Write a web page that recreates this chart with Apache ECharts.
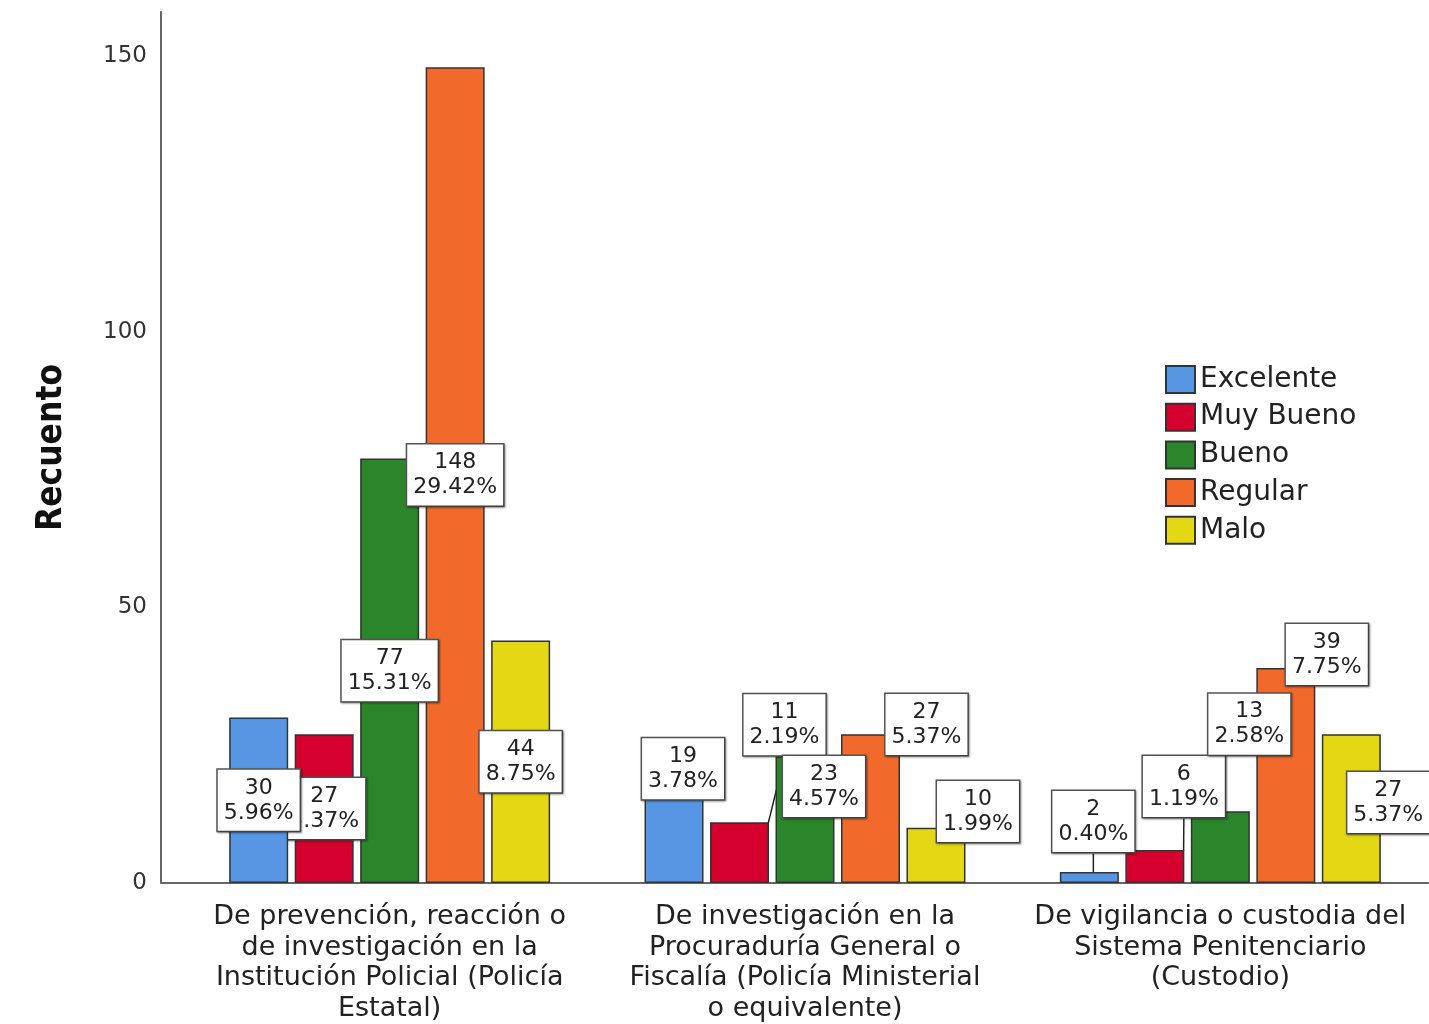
<!DOCTYPE html>
<html>
<head>
<meta charset="utf-8">
<title>Recuento</title>
<script src="https://cdn.jsdelivr.net/npm/echarts@6/dist/echarts.min.js"></script>
<style>
    html, body { margin: 0; padding: 0; background: #fff; }
    #chartDiv { width: 1429px; height: 1024px; }
</style>
</head>
<body>
<div id="chartDiv"></div>
<script>
// datos
var categorias = [
    'De prevención, reacción o\nde investigación en la\nInstitución Policial (Policía\nEstatal)',
    'De investigación en la\nProcuraduría General o\nFiscalía (Policía Ministerial\no equivalente)',
    'De vigilancia o custodia del\nSistema Penitenciario\n(Custodio)'
];
var nombres = ['Excelente', 'Muy Bueno', 'Bueno', 'Regular', 'Malo'];
var excelente = [30, 19, 2];
var muyBueno = [27, 11, 6];
var bueno = [77, 23, 13];
var regular = [148, 27, 39];
var malo = [44, 10, 27];
var excelentePct = ['5.96', '3.78', '0.40'];
var muyBuenoPct = ['5.37', '2.19', '1.19'];
var buenoPct = ['15.31', '4.57', '2.58'];
var regularPct = ['29.42', '5.37', '7.75'];
var maloPct = ['8.75', '1.99', '5.37'];
var yMin = 0, yMax = 158, yInterval = 50;

var valores = [excelente, muyBueno, bueno, regular, malo];
var porcentajes = [excelentePct, muyBuenoPct, buenoPct, regularPct, maloPct];
var colores = ['#5796e3', '#d6002e', '#2b862b', '#f26a2b', '#e4d714'];

// desplazamiento de las etiquetas (como en SPSS), [dx, dy] por serie y categoria
var desplaza = [
    [[0, 0], [9, -62], [4, -56]],
    [[0, 0], [45, -128], [29, -80]],
    [[0, 0], [19, -33], [29, -123]],
    [[0, 0], [56, -84], [41, -121]],
    [[0, 0], [42, -44], [37, -6]]
];
// etiquetas con linea guia
var conLinea = { '1_1': true, '0_2': true, '1_2': true };

var fuente = 'DejaVu Sans';

var series = [];
for (var s = 0; s < nombres.length; s++) {
    var datos = [];
    for (var c = 0; c < valores[s].length; c++) {
        var item = { value: valores[s][c] };
        if (conLinea[s + '_' + c]) {
            item.labelLine = { show: true };
        }
        datos.push(item);
    }
    series.push({
        name: nombres[s],
        type: 'bar',
        z: s == 0 ? 3 : 2,
        barWidth: 59,
        barGap: '11%',
        itemStyle: {
            color: colores[s],
            borderColor: '#333',
            borderWidth: 1.5
        },
        label: {
            show: true,
            position: 'inside',
            fontFamily: fuente,
            fontSize: 22,
            lineHeight: 25,
            color: '#222',
            backgroundColor: '#fff',
            borderColor: '#555',
            borderWidth: 1.5,
            padding: [6, 6, 5, 6],
            shadowColor: 'rgba(0,0,0,0.35)',
            shadowBlur: 2,
            shadowOffsetX: 1,
            shadowOffsetY: 1,
            formatter: function (p) {
                return p.value + '\n' + porcentajes[p.seriesIndex][p.dataIndex] + '%';
            }
        },
        labelLine: {
            show: false,
            lineStyle: { color: '#222', width: 1.5 }
        },
        labelLayout: function (p) {
            var d = desplaza[p.seriesIndex][p.dataIndex];
            return { dx: d[0], dy: d[1] };
        },
        data: datos
    });
}

var option = {
    animation: false,
    backgroundColor: '#fff',
    grid: {
        left: 182,
        right: 1,
        top: 12,
        bottom: 137,
        containLabel: false
    },
    legend: {
        orient: 'vertical',
        left: 1165,
        top: 365,
        padding: 0,
        itemWidth: 29,
        itemHeight: 27,
        itemGap: 8.7,
        itemTextGap: 11,
        icon: 'rect',
        textStyle: {
            fontFamily: fuente,
            fontSize: 28,
            color: '#222'
        },
        data: nombres
    },
    xAxis: {
        type: 'category',
        data: categorias,
        axisTick: { show: false },
        axisLine: { lineStyle: { color: '#666', width: 2 } },
        axisLabel: {
            interval: 0,
            margin: 19,
            fontFamily: fuente,
            fontSize: 27,
            lineHeight: 30.5,
            color: '#222',
            align: 'center'
        }
    },
    yAxis: {
        type: 'value',
        min: yMin,
        max: yMax,
        interval: yInterval,
        offset: 21,
        name: 'Recuento',
        nameLocation: 'middle',
        nameGap: 92,
        nameTextStyle: {
            fontFamily: "'DejaVu Sans Condensed', 'Liberation Sans', sans-serif",
            fontWeight: 'bold',
            fontSize: 35,
            color: '#111'
        },
        splitLine: { show: false },
        axisTick: { show: false },
        axisLine: { show: true, lineStyle: { color: '#666', width: 2 } },
        axisLabel: {
            showMaxLabel: false,
            margin: 14,
            padding: [6, 0, 0, 0],
            fontFamily: fuente,
            fontSize: 23,
            color: '#333'
        }
    },
    series: series
};

var myChart = echarts.init(document.getElementById('chartDiv'));
myChart.setOption(option);

// prolongar la linea del eje x hasta el eje y
var y0 = myChart.convertToPixel({ yAxisIndex: 0 }, 0);
var xIni = myChart.convertToPixel({ xAxisIndex: 0 }, 0) - 208;
myChart.setOption({
    graphic: [{
        type: 'line',
        shape: { x1: xIni - 21, y1: y0, x2: xIni + 1, y2: y0 },
        style: { stroke: '#666', lineWidth: 2 }
    }]
});
</script>
</body>
</html>
